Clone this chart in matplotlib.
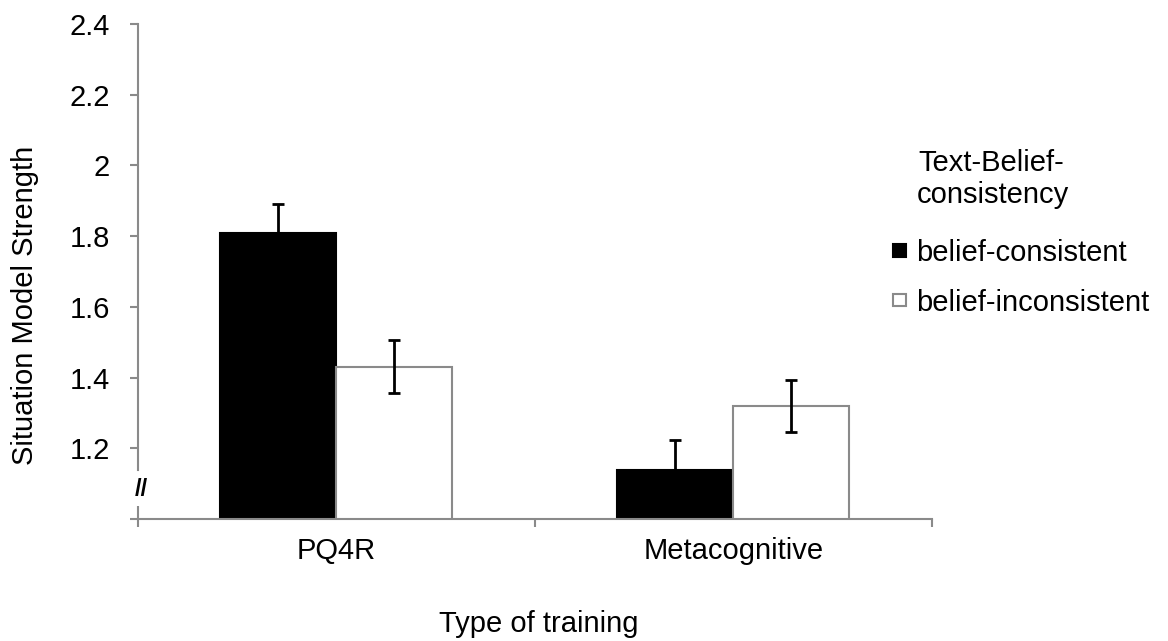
import matplotlib.pyplot as plt
import numpy as np

plt.rcParams['font.family'] = ['Liberation Sans', 'DejaVu Sans']

# values
training = ["PQ4R", "Metacognitive"]
consistent = [1.81, 1.14]
consistent_err = [0.08, 0.084]
inconsistent = [1.43, 1.32]
inconsistent_err = [0.075, 0.074]
series_labels = ["belief-consistent", "belief-inconsistent"]
y_ticks = [1.0, 1.2, 1.4, 1.6, 1.8, 2.0, 2.2, 2.4]
y_ticklabels = ["", "1.2", "1.4", "1.6", "1.8", "2", "2.2", "2.4"]

W, H = 1168, 641
GRAY = "#8a8a8a"
FS = 21

fig = plt.figure(figsize=(W / 100, H / 100), dpi=100)
ax = fig.add_axes([137.5 / W, 1 - 519 / H, (932 - 137.5) / W, (519 - 24) / H])

x = np.arange(len(training))
w = 0.292
b1 = ax.bar(x - w / 2, consistent, w, color="black", edgecolor="black",
            linewidth=1.5, label=series_labels[0], zorder=2)
b2 = ax.bar(x + w / 2, inconsistent, w, color="white", edgecolor=GRAY,
            linewidth=1.5, label=series_labels[1], zorder=2)
ax.errorbar(x - w / 2, consistent, yerr=consistent_err, fmt="none",
            ecolor="black", elinewidth=2, capsize=4, capthick=2, zorder=3)
ax.errorbar(x + w / 2, inconsistent, yerr=inconsistent_err, fmt="none",
            ecolor="black", elinewidth=2, capsize=4, capthick=2, zorder=3)

ax.set_xlim(-0.5, len(training) - 0.5)
ax.set_ylim(1.0, 2.4)

# axes: broken y axis, gray spines
for s in ["top", "right"]:
    ax.spines[s].set_visible(False)
for s in ["left", "bottom"]:
    ax.spines[s].set_color(GRAY)
    ax.spines[s].set_linewidth(1.5)
ax.spines["left"].set_bounds(1.14, 2.4)
ax.plot([-0.5, -0.5], [1.0, 1.037], color=GRAY, lw=1.5, clip_on=False,
        solid_capstyle="butt", zorder=4)
fig.text(141.5 / W, 1 - 490 / H, "//", fontsize=17, fontweight="bold",
         ha="center", va="center")

ax.set_yticks(y_ticks)
ax.set_yticklabels(y_ticklabels)
ax.tick_params(axis="y", direction="out", length=5.8, width=1.5, color=GRAY,
               labelsize=FS, pad=14)

ax.set_xticks(np.arange(len(training) + 1) - 0.5)
ax.set_xticklabels([])
ax.set_xticks(x, minor=True)
ax.set_xticklabels(training, minor=True)
ax.tick_params(axis="x", which="major", direction="out", length=5.8,
               width=1.5, color=GRAY)
ax.tick_params(axis="x", which="minor", length=0, labelsize=FS, pad=13)

fig.text(25 / W, 1 - 305 / H, "Situation Model Strength", rotation=90,
         ha="center", va="center", fontsize=FS)
fig.text(539 / W, 1 - 632 / H, "Type of training", ha="center",
         va="baseline", fontsize=FS)

# legend title, two lines as in the reference
fig.text(918 / W, 1 - 171 / H, "Text-Belief-", ha="left", va="baseline",
         fontsize=FS)
fig.text(917 / W, 1 - 203 / H, "consistency", ha="left", va="baseline",
         fontsize=FS)
ax.legend(handles=[b1, b2], loc="upper left",
          bbox_to_anchor=(893 / W, 1 - 239 / H), bbox_transform=fig.transFigure,
          frameon=False, fontsize=FS, handlelength=0.45, handleheight=0.3,
          handletextpad=0.35, labelspacing=0.74, borderpad=0, borderaxespad=0)

fig.savefig("out.png", dpi=100)
